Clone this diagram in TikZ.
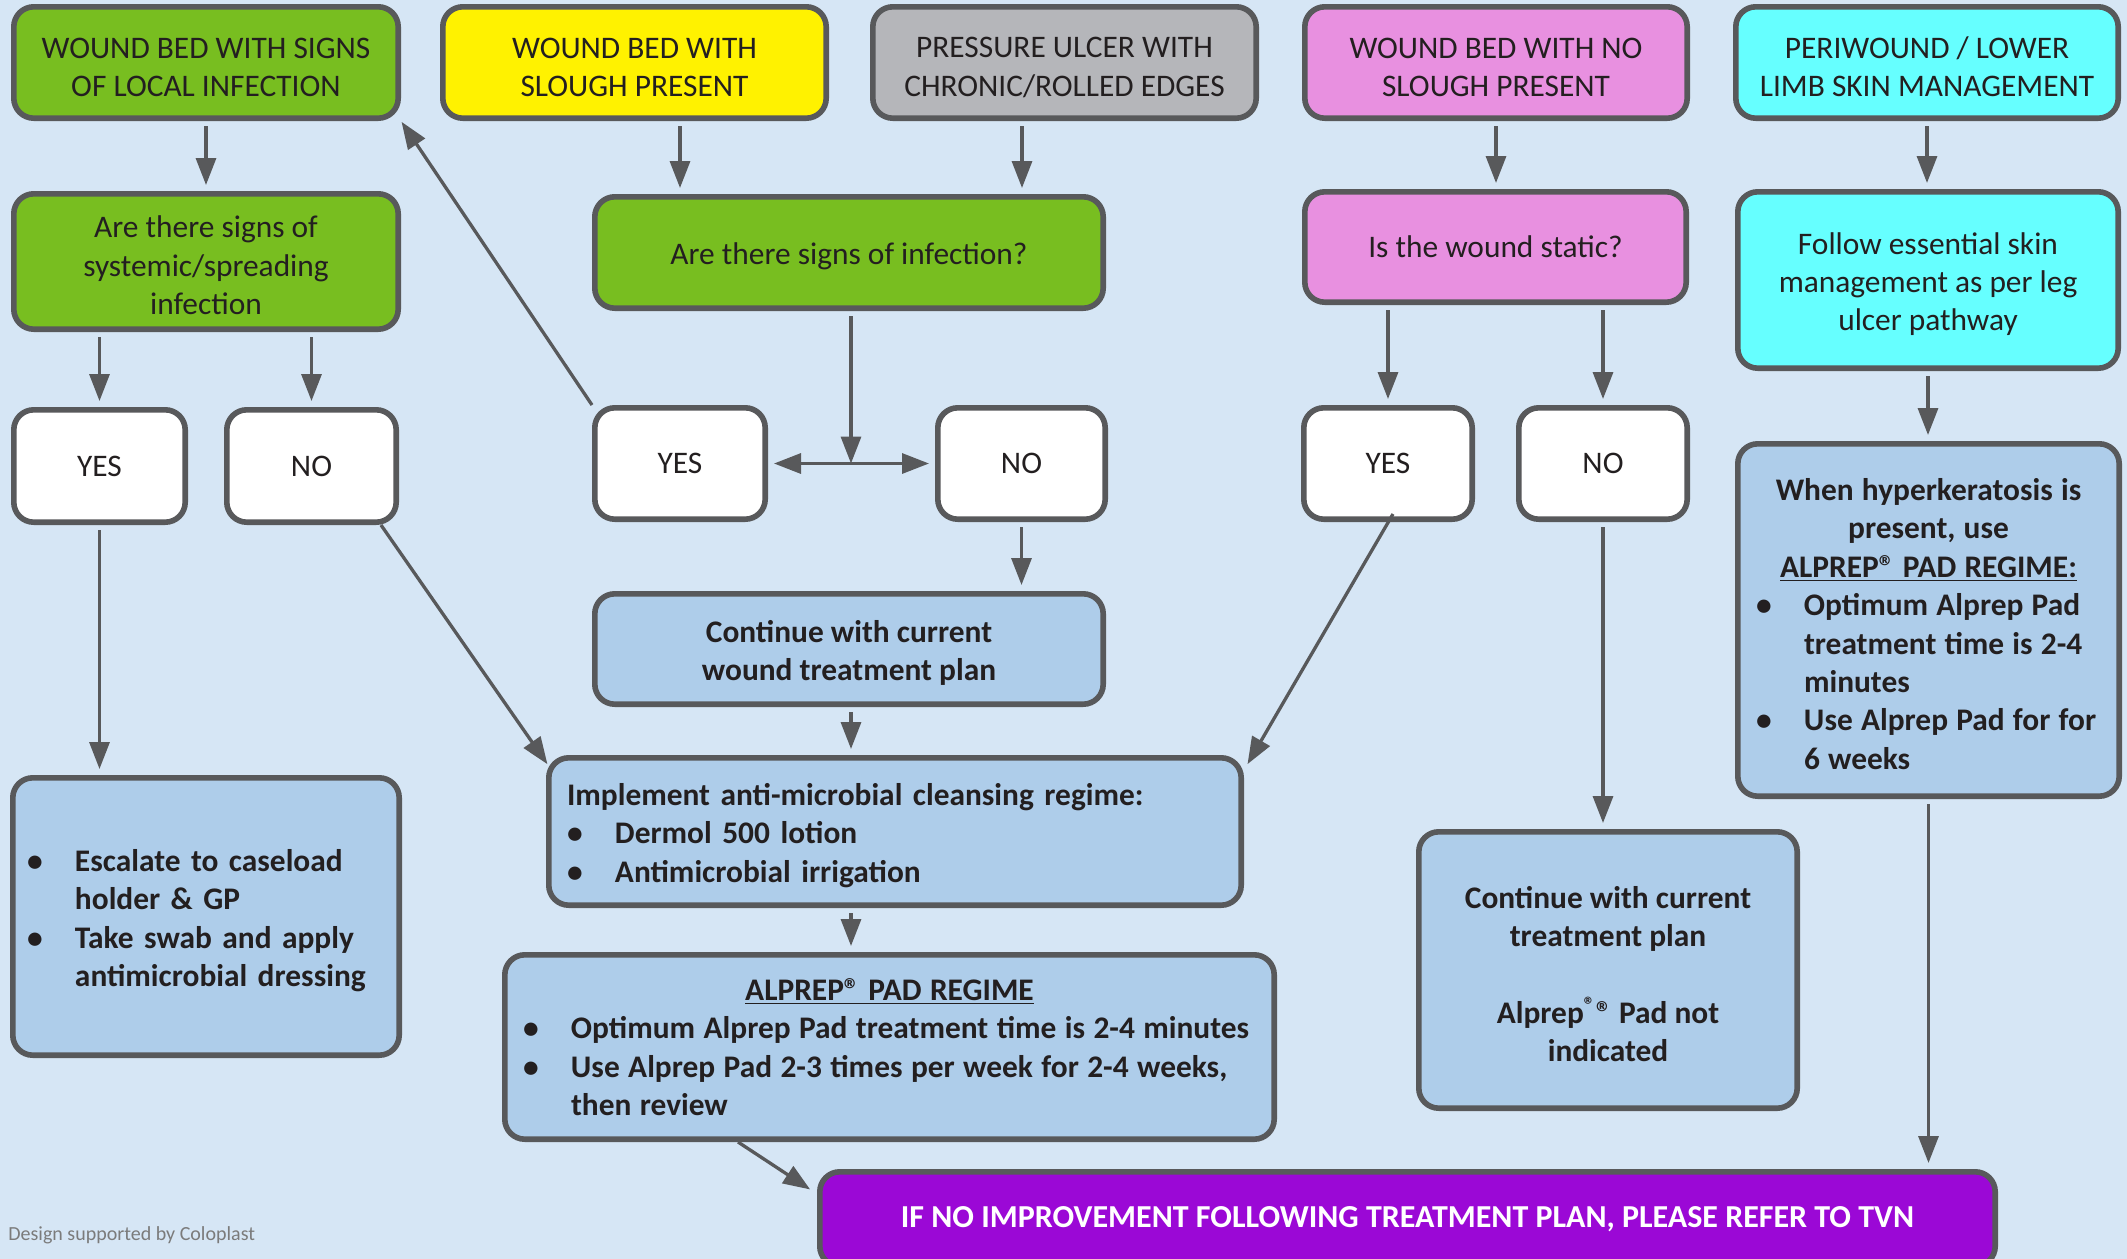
\documentclass[tikz,border=0pt]{standalone}
\usepackage{fontspec}
\setmainfont{Carlito}
\usetikzlibrary{arrows.meta,calc}
\definecolor{bgc}{HTML}{D6E6F5}
\definecolor{grn}{HTML}{78BE20}
\definecolor{ylw}{HTML}{FFF200}
\definecolor{gry}{HTML}{B5B6BA}
\definecolor{pnk}{HTML}{E890E0}
\definecolor{cyn}{HTML}{66FFFF}
\definecolor{blu}{HTML}{AECDEA}
\definecolor{prp}{HTML}{9B08D6}
\definecolor{brd}{HTML}{58595B}
\definecolor{txt}{HTML}{231F20}
\definecolor{credit}{HTML}{7B7B7B}
\pgfdeclarelayer{background}
\pgfsetlayers{background,main}
\newcommand\bitem[1]{\mbox{\makebox[24pt][l]{\textbullet}#1}}
\newcommand\bcont[1]{\mbox{\hspace*{24pt}#1}}
\newcommand\st{\rule{0pt}{15pt}}
\newcommand\tightsp[1]{\spaceskip=#1\relax}
\begin{document}
\begin{tikzpicture}[x=0.5pt,y=-0.5pt,
  box/.style={draw=brd, line width=2.8pt, rounded corners=10pt, text=txt,
    font=\fontsize{15.7pt}{19.2pt}\selectfont, align=center, inner sep=0pt},
  sz/.style 2 args={minimum width={#1*0.5pt-2.8pt}, minimum height={#2*0.5pt-2.8pt}},
  listbox/.style={box, fill=blu, align=left, inner xsep=#1},
  bold/.style={font=\fontsize{15.7pt}{19.2pt}\selectfont\bfseries},
  arr/.style={draw=brd, line width=1.65pt, -{Triangle[length=13.5pt,width=10pt]},
    shorten >=3pt, shorten <=2.5pt},
]
\useasboundingbox (0,0) rectangle (2127,1259);
\begin{pgfonlayer}{background}
\fill[bgc] (0,0) rectangle (2127,1259);
\end{pgfonlayer}
\clip (0,0) rectangle (2127,1259);

% top row
\node[box, fill=grn, sz={390}{117}] (b1) at (206,62.5) {\st WOUND BED WITH SIGNS\\OF LOCAL INFECTION};
\node[box, fill=ylw, sz={389}{117}] (yel) at (634.5,62.5) {\st WOUND BED WITH\\SLOUGH PRESENT};
\node[box, fill=gry, sz={389}{117}] (gry) at (1064.5,62.5) {\st PRESSURE ULCER WITH\\CHRONIC/ROLLED EDGES};
\node[box, fill=pnk, sz={388}{117}] (pnk) at (1496,62.5) {\st WOUND BED WITH NO\\SLOUGH PRESENT};
\node[box, fill=cyn, sz={388}{117}] (cyn) at (1927,62.5) {\st PERIWOUND / LOWER\\LIMB SKIN MANAGEMENT};

% second row
\node[box, fill=grn, sz={390}{141}] (b2) at (206,261.5) {\st Are there signs of\\systemic/spreading\\infection};
\node[box, fill=grn, sz={514}{117}] (inf) at (849,252.5) {\st Are there signs of infection?};
\node[box, fill=pnk, sz={387}{116}] (stat) at (1495.5,247) {Is the wound static?};
\node[box, fill=cyn, sz={386}{182}] (cyn2) at (1928,280) {\st Follow essential skin\\management as per leg\\ulcer pathway};

% yes / no
\node[box, fill=white, sz={177}{118}] (yes1) at (99.5,466) {YES};
\node[box, fill=white, sz={175}{118}] (no1) at (311.5,466) {NO};
\node[box, fill=white, sz={176}{117}] (yes2) at (680,463.5) {YES};
\node[box, fill=white, sz={173}{117}] (no2) at (1021.5,463.5) {NO};
\node[box, fill=white, sz={174}{117}] (yes3) at (1388,463.5) {YES};
\node[box, fill=white, sz={174}{117}] (no3) at (1603,463.5) {NO};

% blue boxes
\node[box, fill=blu, bold, sz={514}{116}] (cont1) at (849,649) {\st Continue with current\\wound treatment plan};
\node[listbox=9.1pt, bold, sz={698}{153}, text width=328pt] (impl) at (895,831.5)
  {\st Implement anti-microbial cleansing regime:\\
   \bitem{Dermol 500 lotion}\\
   \bitem{Antimicrobial irrigation}};
\node[listbox=7.1pt, bold, sz={392}{283}, text width=179pt] (esc) at (206,916.5)
  {\st\bitem{Escalate to caseload}\\
   \bcont{holder \& GP}\\
   \bitem{Take swab and apply}\\
   \bcont{antimicrobial dressing}};
\node[listbox=9.1pt, bold, sz={775}{190}, text width=366.5pt] (alp) at (889.5,1047)
  {\tightsp{4.2pt}\makebox[366.5pt][c]{\underline{ALPREP® PAD REGIME}}\\
   \bitem{Optimum Alprep Pad treatment time is 2-4 minutes}\\
   \bitem{Use Alprep Pad 2-3 times per week for 2-4 weeks,}\\
   \bcont{then review}};
\node[listbox=9.1pt, bold, sz={387}{358}, text width=172.5pt] (hyper) at (1928.5,620)
  {\tightsp{4.1pt}\st\makebox[172.5pt][c]{When hyperkeratosis is}\\
   \makebox[172.5pt][c]{present, use}\\
   \makebox[172.5pt][c]{\underline{ALPREP® PAD REGIME:}}\\
   \bitem{Optimum Alprep Pad}\\
   \bcont{treatment time is 2-4}\\
   \bcont{minutes}\\
   \bitem{Use Alprep Pad for for}\\
   \bcont{6 weeks}};
\node[box, fill=blu, bold, sz={384}{282}] (cont2) at (1608,970)
  {\st Continue with current\\treatment plan\\[19.2pt]
   Alprep\textsuperscript{®}® Pad not\\indicated};
\node[box, fill=prp, text=white, sz={1181}{100},
      font=\fontsize{16pt}{19.2pt}\selectfont\bfseries] (purple) at (1407.5,1219)
  {IF NO IMPROVEMENT FOLLOWING TREATMENT PLAN, PLEASE REFER TO TVN};

\node[anchor=west, inner sep=0pt, text=credit, font=\fontsize{10pt}{12pt}\selectfont] (credit) at (8,1235) {Design supported by Coloplast};

% helper coordinates
\coordinate (J) at (851,463.5);
\coordinate (xy) at (680,0);
\coordinate (xg) at (1022,0);
\coordinate (xa) at (738,0);

% connectors
\begin{pgfonlayer}{background}
\draw[arr] (b1) -- (b2);
\draw[arr] (yel.south -| xy) -- (inf.north -| xy);
\draw[arr] (gry.south -| xg) -- (inf.north -| xg);
\draw[arr] (pnk) -- (stat.north -| pnk);
\draw[arr] (cyn) -- (cyn2.north -| cyn);
\draw[arr] (b2.south -| yes1) -- (yes1);
\draw[arr] (b2.south -| no1) -- (no1);
\draw[arr, shorten >=0pt] (inf.south -| J) -- (J);
\draw[arr, shorten <=0pt] (J) -- (yes2);
\draw[arr, shorten <=0pt] (J) -- (no2);
\draw[arr, shorten >=0.5pt, shorten <=0pt] (yes2.north west) -- (b1.south east);
\draw[arr, shorten >=0.5pt, shorten <=0pt] ([shift={(-18,0)}]no1.south east) -- ([shift={(2,10)}]impl.north west);
\draw[arr] (no2) -- (cont1.north -| no2);
\draw[arr] (cont1.south -| J) -- (impl.north -| J);
\draw[arr] (impl.south -| J) -- (alp.north -| J);
\draw[arr] (stat.south -| yes3) -- (yes3);
\draw[arr] (stat.south -| no3) -- (no3);
\draw[arr] (no3) -- (cont2.north -| no3);
\draw[arr] (yes1) -- (esc.north -| yes1);
\draw[arr] (cyn2) -- (hyper.north -| cyn2);
\draw[arr] (hyper) -- (purple.north -| hyper);
\draw[arr, shorten >=0.5pt, shorten <=0pt] (alp.south -| xa) -- ([shift={(-6,21)}]purple.north west);
\end{pgfonlayer}
\draw[arr, shorten >=0.5pt, shorten <=0pt] ([shift={(5,-8)}]yes3.south) -- ([shift={(3,10)}]impl.north east);
\end{tikzpicture}
\end{document}
